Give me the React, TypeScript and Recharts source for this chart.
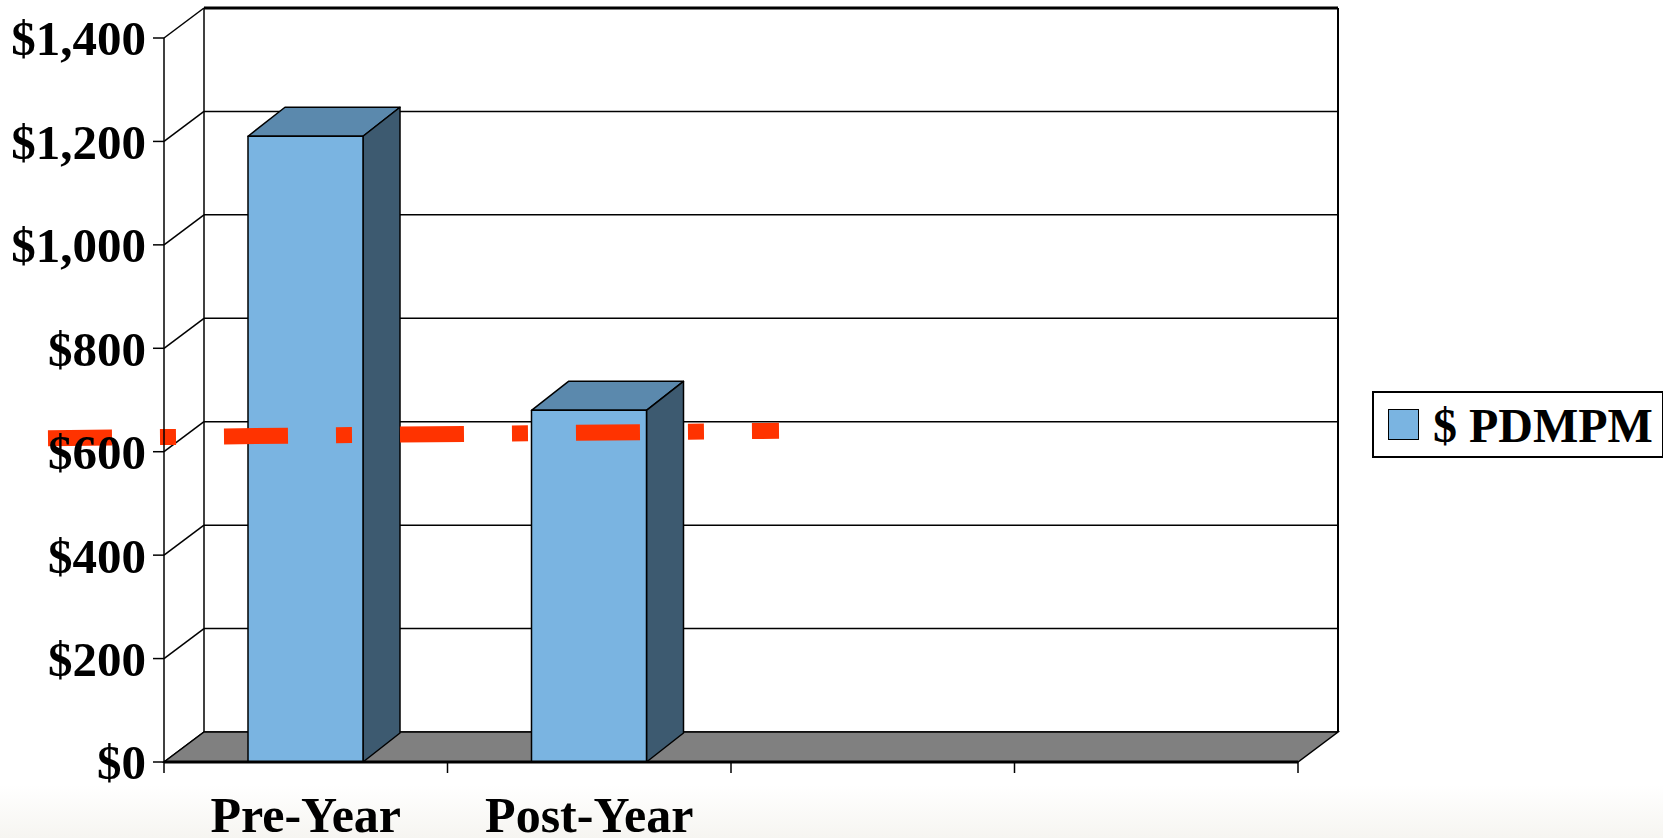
import React from 'react';
import {
  BarChart,
  Bar,
  XAxis,
  YAxis,
  CartesianGrid,
  ReferenceArea,
  ReferenceLine,
  Legend,
} from 'recharts';

// categories along the floor; the last two bands are empty
const categories = ['Pre-Year', 'Post-Year', ' ', '  '];
const pdmpm = [1210, 680, null, null];
const yTicks = [0, 200, 400, 600, 800, 1000, 1200, 1400];
const targetValue = 628;
const seriesName = '$ PDMPM';

const FONT = '"Liberation Serif", "Times New Roman", serif';
const FRONT = '#7AB4E1';
const TOP = '#5B89AD';
const SIDE = '#3D5A70';
const FLOOR = '#808080';
const RED = '#FF3300';

// depth offsets for the fake 3-D look
const WALL_DX = 40;
const WALL_DY = -30;
const BAR_DX = 37;
const BAR_DY = -29;

const data = categories.map((name, i) => ({ name, value: pdmpm[i] }));

function Bar3D(props: any) {
  const { x, y, width: w, height: h } = props;
  if (h == null || h <= 0) return null;
  return (
    <g stroke="#000" strokeWidth={1.5} strokeLinejoin="round">
      <path
        d={`M${x},${y} L${x + BAR_DX},${y + BAR_DY} L${x + w + BAR_DX},${y + BAR_DY} L${x + w},${y} Z`}
        fill={TOP}
      />
      <path
        d={`M${x + w},${y} L${x + w + BAR_DX},${y + BAR_DY} L${x + w + BAR_DX},${y + h + BAR_DY} L${x + w},${y + h} Z`}
        fill={SIDE}
      />
      <rect x={x} y={y} width={w} height={h} fill={FRONT} />
    </g>
  );
}

// back wall + floor, drawn from the plot rectangle
function Walls(props: any) {
  const { x, y, width: w, height: h } = props;
  const bx = x + WALL_DX;
  const by = y + WALL_DY;
  return (
    <g>
      <path
        d={`M${x},${y + h} L${bx},${by + h} L${bx + w},${by + h} L${x + w},${y + h} Z`}
        fill={FLOOR}
        stroke="#000"
        strokeWidth={1.5}
      />
      <line x1={bx} y1={by} x2={bx} y2={by + h} stroke="#000" strokeWidth={1.5} />
      <line x1={bx + w} y1={by} x2={bx + w} y2={by + h} stroke="#000" strokeWidth={2} />
      <line x1={bx} y1={by} x2={bx + w} y2={by} stroke="#000" strokeWidth={3} />
    </g>
  );
}

function GridLine(props: any) {
  const { x1, y1, x2, y2 } = props;
  return (
    <g key={props.key ?? `g-${y1}`}>
      <line x1={x1} y1={y1} x2={x1 + WALL_DX} y2={y1 + WALL_DY} stroke="#000" strokeWidth={1.5} />
      <line
        x1={x1 + WALL_DX}
        y1={y1 + WALL_DY}
        x2={x2 + WALL_DX}
        y2={y2 + WALL_DY}
        stroke="#000"
        strokeWidth={1.5}
      />
    </g>
  );
}

function CategoryTick(props: any) {
  const { x, y, payload } = props;
  const idx = payload.index ?? 0;
  const half = payload.offset ?? 0;
  const label = (categories[idx] ?? '').trim();
  return (
    <g>
      <line x1={x - half} y1={y} x2={x - half} y2={y + 11} stroke="#000" strokeWidth={1.5} />
      {idx === categories.length - 1 && (
        <line x1={x + half} y1={y} x2={x + half} y2={y + 11} stroke="#000" strokeWidth={1.5} />
      )}
      {label && (
        <text
          x={x}
          y={y + 70}
          textAnchor="middle"
          fontFamily={FONT}
          fontWeight="bold"
          fontSize={50}
          fill="#000"
        >
          {label}
        </text>
      )}
    </g>
  );
}

function TargetLine(props: any) {
  const { y1 } = props;
  return (
    <line
      x1={48}
      y1={y1 + 1}
      x2={779}
      y2={y1 - 6.5}
      stroke={RED}
      strokeWidth={16}
      strokeDasharray="64 48 16 48"
    />
  );
}

function LegendBox() {
  return (
    <div
      style={{
        boxSizing: 'border-box',
        width: 292,
        height: 67,
        border: '2px solid #000',
        background: '#fff',
        display: 'flex',
        alignItems: 'center',
        paddingLeft: 14,
        fontFamily: FONT,
        fontWeight: 'bold',
        fontSize: 48,
        color: '#000',
      }}
    >
      <span
        style={{
          display: 'inline-block',
          width: 29,
          height: 29,
          background: FRONT,
          border: '1.5px solid #000',
          marginRight: 14,
        }}
      />
      <span style={{ lineHeight: 1, position: 'relative', top: 1 }}>{seriesName}</span>
    </div>
  );
}

export default function App() {
  return (
    <div
      style={{
        position: 'absolute',
        left: 0,
        top: 0,
        width: 1663,
        height: 838,
        background: 'linear-gradient(to bottom, #ffffff 0px, #ffffff 785px, #f6f5f1 838px)',
        overflow: 'hidden',
      }}
    >
      <BarChart
        width={1663}
        height={838}
        data={data}
        margin={{ top: 38, right: 365, bottom: 16, left: 14 }}
        barCategoryGap={0}
      >
        <ReferenceArea y1={0} y2={1400} shape={<Walls />} zIndex={-50} ifOverflow="visible" />
        <CartesianGrid vertical={false} horizontal={(p: any) => <GridLine {...p} />} />
        <XAxis
          dataKey="name"
          interval={0}
          height={60}
          tickSize={0}
          tickMargin={0}
          tickLine={false}
          axisLine={{ stroke: '#000', strokeWidth: 3 }}
          tick={<CategoryTick />}
        />
        <YAxis
          width={150}
          domain={[0, 1400]}
          ticks={yTicks}
          interval={0}
          tickSize={11}
          tickMargin={7}
          tickLine={{ stroke: '#000', strokeWidth: 1.5 }}
          axisLine={{ stroke: '#000', strokeWidth: 1.5 }}
          tickFormatter={(v: number) => `$${v.toLocaleString('en-US')}`}
          tick={{ fill: '#000', fontFamily: FONT, fontWeight: 'bold', fontSize: 49 }}
        />
        <Bar
          dataKey="value"
          name={seriesName}
          barSize={115}
          fill={FRONT}
          shape={<Bar3D />}
          isAnimationActive={false}
        />
        <ReferenceLine y={targetValue} shape={<TargetLine />} ifOverflow="visible" />
        <Legend
          layout="horizontal"
          verticalAlign="middle"
          align="center"
          wrapperStyle={{ position: 'absolute', left: 1372, top: 391, width: 292 }}
          content={() => <LegendBox />}
        />
      </BarChart>
    </div>
  );
}
